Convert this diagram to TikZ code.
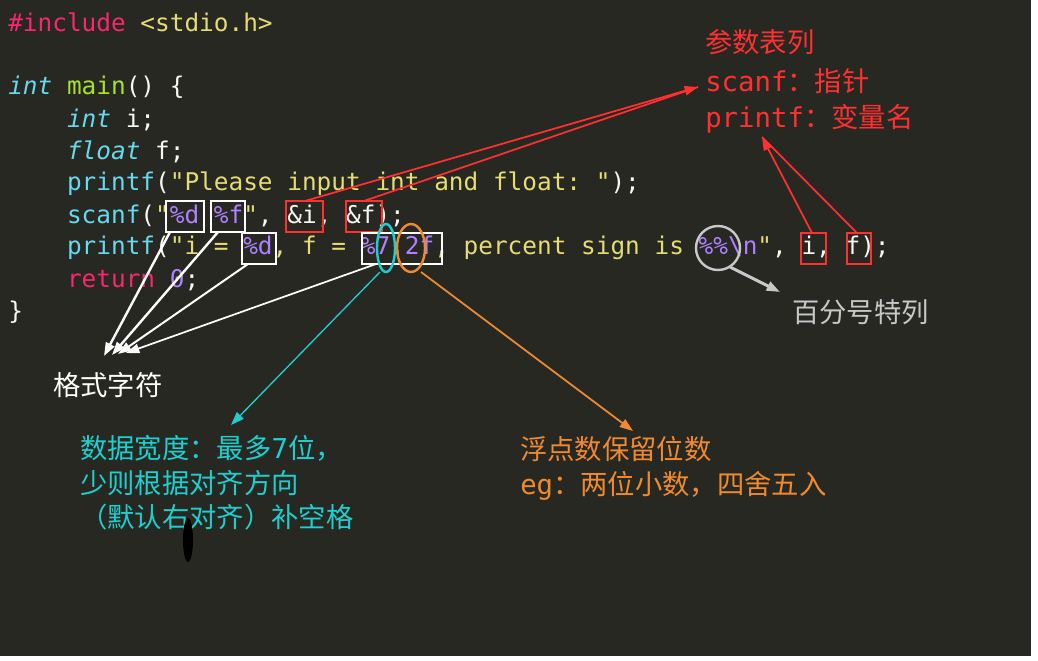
\documentclass[tikz,border=0pt]{standalone}
\usepackage{fontspec}
\setmonofont{DejaVu Sans Mono}
\newfontfamily\cjk{Noto Sans CJK SC}
\usetikzlibrary{arrows.meta}
\definecolor{bg}{HTML}{272822}
\definecolor{kw}{HTML}{66D9EF}
\definecolor{fn}{HTML}{A6E22E}
\definecolor{st}{HTML}{E6DB74}
\definecolor{nm}{HTML}{AE81FF}
\definecolor{pk}{HTML}{F92672}
\definecolor{wt}{HTML}{F8F8F2}
\definecolor{rd}{HTML}{FF3030}
\definecolor{cy}{HTML}{1FCFCF}
\definecolor{og}{HTML}{F08A30}
\definecolor{gy}{HTML}{C8C8C8}
\newcommand\cdK[1]{\textcolor{kw}{\itshape #1}}
\newcommand\cdF[1]{\textcolor{fn}{#1}}
\newcommand\cdS[1]{\textcolor{st}{#1}}
\newcommand\cdN[1]{\textcolor{nm}{#1}}
\newcommand\cdP[1]{\textcolor{pk}{#1}}
\newcommand\mo[1]{{\ttfamily #1}}
\begin{document}
\begin{tikzpicture}[x=0.75pt,y=-0.75pt,
  code/.style={anchor=west,inner sep=0,font=\ttfamily\fontsize{18.3}{20}\selectfont,text=wt},
  ann/.style={anchor=west,inner sep=0,font=\cjk\fontsize{20.5}{22}\selectfont},
  wbox/.style={draw=white,line width=1.8pt},
  rbox/.style={draw=rd,line width=1.8pt},
  arr/.style={-{Triangle[length=10pt,width=7pt]},line width=1.3pt}]
\fill[bg] (0,0) rectangle (1038,660);
\fill[white] (1031,0) rectangle (1038,660);
\fill[white] (0,656) rectangle (1038,660);
\path[use as bounding box] (0,0) rectangle (1038,660);
% code
\node[code] (l1) at (8,22) {\cdP{\#include} \cdS{<stdio.h>}};
\node[code] (l3) at (8,87) {\cdK{int} \cdF{main}() \{};
\node[code] (l4) at (8,120) {\ \ \ \ \cdK{int} i;};
\node[code] (l5) at (8,152) {\ \ \ \ \cdK{float} f;};
\node[code] (l6) at (8,184) {\ \ \ \ \kern0pt\textcolor{kw}{printf}(\cdS{"Please input int and float: "});};
\node[code] (l7) at (8,216) {\ \ \ \ \kern0pt\textcolor{kw}{scanf}(\cdS{"}\cdN{\%d} \cdN{\%f}\cdS{"}, \&i, \&f);};
\node[code] (l8) at (8,248) {\ \ \ \ \kern0pt\textcolor{kw}{printf}(\cdS{"i = }\cdN{\%d}\cdS{, f = }\cdN{\%7.2f}\cdS{, percent sign is }\cdN{\%\%\textbackslash n}\cdS{"}, i, f);};
\node[code] (l9) at (8,280) {\ \ \ \ \cdP{return} \cdN{0};};
\node[code] (l10) at (8,312) {\}};
% boxes
\draw[wbox] (166,201) rectangle (204,232) node[midway] (bd1) {};
\draw[wbox] (211,201) rectangle (245,232) node[midway] (bf1) {};
\draw[rbox] (286,201) rectangle (323,232) node[midway] (bi) {};
\draw[rbox] (346,201) rectangle (382,232) node[midway] (bf) {};
\draw[wbox] (242,233) rectangle (276,264) node[midway] (bd2) {};
\draw[wbox] (362,233) rectangle (442,264) node[midway] (b72) {};
\draw[rbox] (801,233) rectangle (826,264) node[midway] (ri) {};
\draw[rbox] (847,233) rectangle (871,264) node[midway] (rf) {};
\draw[cy,line width=1.8pt] (386,248) ellipse (9 and 24);
\draw[og,line width=1.8pt] (411,248) ellipse (14 and 24);
\draw[gy,line width=1.8pt] (718,248) circle (22);
% annotations
\node[ann,text=rd] (t1) at (705,42) {参数表列};
\node[ann,text=rd] (t2) at (705,81) {\mo{scanf}：指针};
\node[ann,text=rd] (t3) at (705,119) {\mo{printf}：变量名};
\node[ann,text=gy] (t4) at (792,312) {百分号特列};
\node[ann,text=white] (t5) at (53,385) {格式字符};
\node[ann,text=cy,align=left,anchor=north west] (t6) at (80,435) {数据宽度：最多\mo{7}位，\\[4pt]少则根据对齐方向\\[4pt]（默认右对齐）补空格};
\node[ann,text=og,align=left,anchor=north west] (t7) at (520,436) {浮点数保留位数\\[4pt]\mo{eg}：两位小数，四舍五入};
\fill[black] (188,540) ellipse (5 and 22);
% arrows
\coordinate (ra) at (698,87);
\coordinate (rb) at (762,137);
\draw[rd,arr] (305,201) -- (ra);
\draw[rd,line width=1.3pt] (364,201) -- (ra);
\draw[rd,arr] (812,233) -- (rb);
\draw[rd,line width=1.3pt] (857,233) -- (rb);
\draw[gy,arr,line width=2.2pt] (730,267) -- (780,292);
\coordinate (w1) at (104,356);
\coordinate (w2) at (112,355);
\coordinate (w3) at (118,354);
\coordinate (w4) at (126,353);
\draw[white,arr,line width=1.8pt] (170,232) -- (w1);
\draw[white,arr,line width=1.8pt] (218,232) -- (w2);
\draw[white,arr,line width=1.5pt] (248,264) -- (w3);
\draw[white,arr,line width=1.3pt] (376,264) -- (w4);
\draw[cy,arr,line width=1pt] (380,272) -- (231,425);
\draw[og,arr] (421,272) -- (633,431);
\end{tikzpicture}
\end{document}
